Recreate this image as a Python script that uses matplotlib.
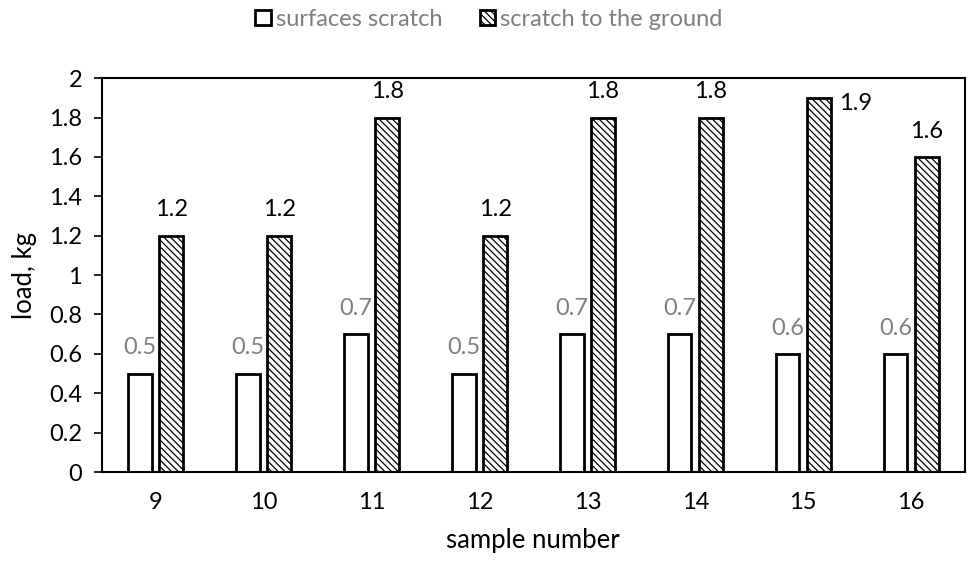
import matplotlib.pyplot as plt
import numpy as np

plt.rcParams['font.family'] = ['Lato', 'DejaVu Sans']
plt.rcParams['hatch.linewidth'] = 0.9

samples = ['9', '10', '11', '12', '13', '14', '15', '16']
surfaces_scratch = [0.5, 0.5, 0.7, 0.5, 0.7, 0.7, 0.6, 0.6]
scratch_to_ground = [1.2, 1.2, 1.8, 1.2, 1.8, 1.8, 1.9, 1.6]

fig = plt.figure(figsize=(9.68, 5.62), dpi=100)
ax = fig.add_axes([0.105, 0.160, 0.892, 0.701])

x = np.arange(len(samples))
w = 0.22
off = 0.145
fs = 17

b1 = ax.bar(x - off, surfaces_scratch, w, color='white', edgecolor='black',
            linewidth=2, label='surfaces scratch')
b2 = ax.bar(x + off, scratch_to_ground, w, color='white', edgecolor='black',
            linewidth=2, hatch='\\\\\\\\\\', label='scratch to the ground')

for xi, v in zip(x, surfaces_scratch):
    ax.annotate(f'{v:g}', (xi - off, v), xytext=(0, 11), textcoords='offset points',
                ha='center', va='bottom', fontsize=fs, color='#808080')
for xi, v in zip(x, scratch_to_ground):
    if v >= 1.9:
        # no room above, put it beside the bar
        ax.annotate(f'{v:g}', (xi + off + w / 2, v), xytext=(6, -4),
                    textcoords='offset points', ha='left', va='center',
                    fontsize=fs, color='black')
    else:
        ax.annotate(f'{v:g}', (xi + off, v), xytext=(0, 11), textcoords='offset points',
                    ha='center', va='bottom', fontsize=fs, color='black')

ax.set_xlim(-0.5, len(samples) - 0.5)
ax.set_ylim(0, 2)
ax.set_yticks(np.arange(0, 2.01, 0.2))
ax.set_yticklabels(['0', '0.2', '0.4', '0.6', '0.8', '1', '1.2', '1.4', '1.6', '1.8', '2'])
ax.set_xticks(x)
ax.set_xticklabels(samples)
ax.tick_params(axis='x', length=0, labelsize=fs, pad=14)
ax.tick_params(axis='y', length=6, width=1.2, labelsize=fs, pad=8)

for s in ax.spines.values():
    s.set_linewidth(1.5)
    s.set_color('black')

ax.set_xlabel('sample number', fontsize=18.5, labelpad=11)
ax.set_ylabel('load, kg', fontsize=18.5, labelpad=9)

leg = fig.legend(handles=[b1, b2], loc='upper center', bbox_to_anchor=(0.505, 1.022),
                 ncol=2, frameon=False, fontsize=fs, handlelength=0.65,
                 handleheight=0.65, handletextpad=0.2, columnspacing=1.6,
                 labelcolor='#7f7f7f')

fig.savefig('out.png', dpi=100)
